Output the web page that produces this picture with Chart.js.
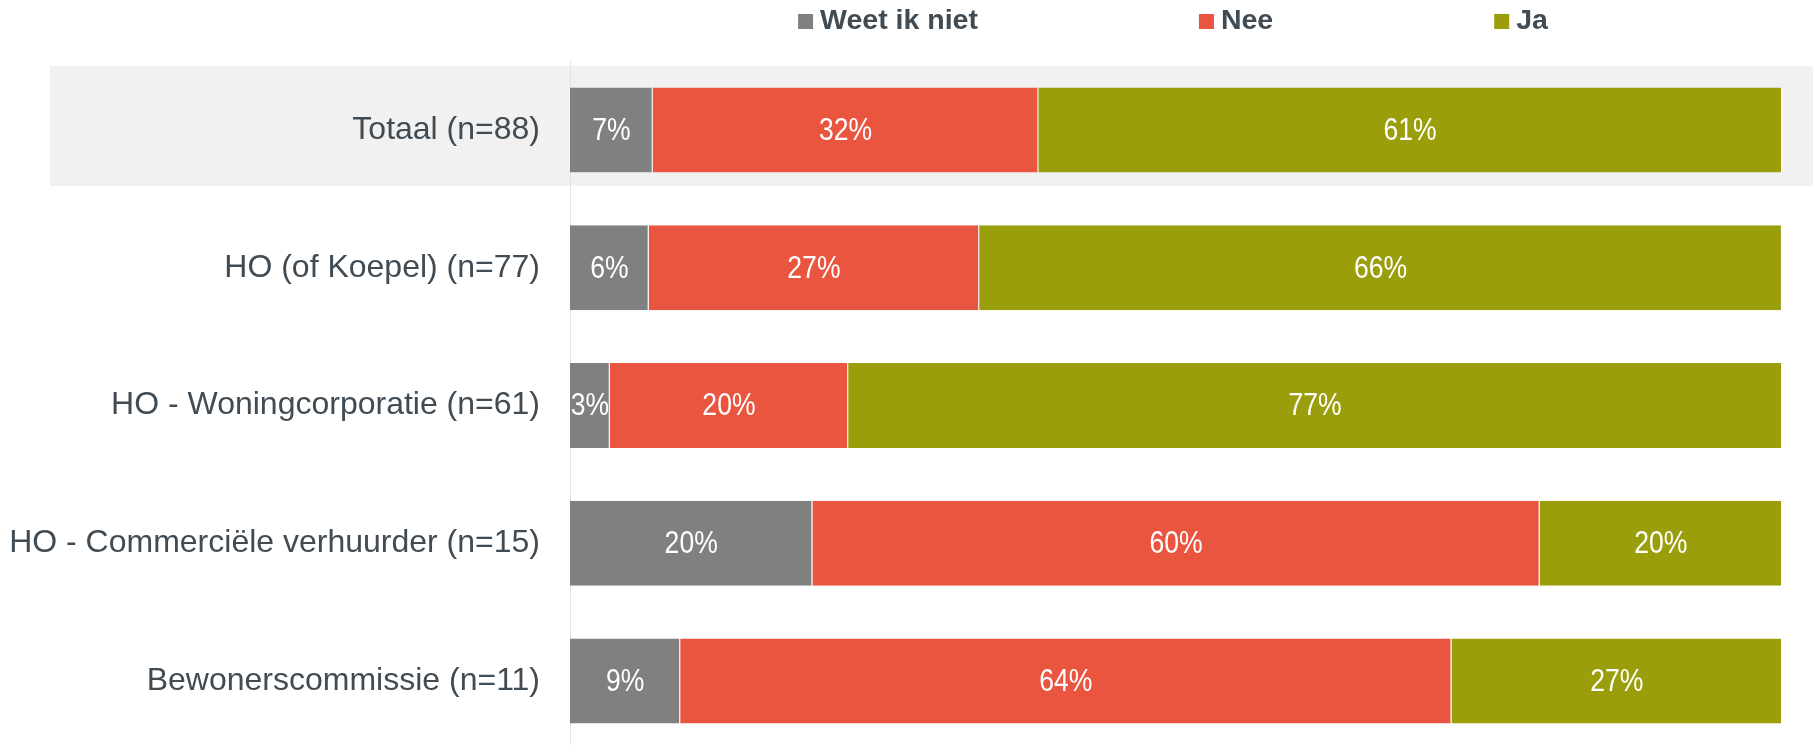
<!DOCTYPE html>
<html>
<head>
<meta charset="utf-8">
<script src="https://cdn.jsdelivr.net/npm/chart.js@4/dist/chart.umd.min.js"></script>
<style>
  html, body { margin: 0; padding: 0; background: #ffffff; overflow: hidden; }
  #wrap { width: 1813px; height: 745px; position: relative; overflow: hidden; }
</style>
</head>
<body>
<div id="wrap"><canvas id="c" width="1813" height="750"></canvas></div>
<script>
// ---- data ----
const categories = [
  'Totaal (n=88)',
  'HO (of Koepel) (n=77)',
  'HO - Woningcorporatie (n=61)',
  'HO - Commerciële verhuurder (n=15)',
  'Bewonerscommissie (n=11)'
];
const seriesNames = ['Weet ik niet', 'Nee', 'Ja'];
const weetIkNiet = [6.82, 6.49, 3.28, 20.0, 9.09];
const nee = [31.82, 27.27, 19.67, 60.0, 63.64];
const ja = [61.36, 66.23, 77.05, 20.0, 27.27];
const highlightedCategory = 'Totaal (n=88)';

// ---- styles ----
const colors = ['#808080', '#E9553F', '#9A9E0A'];
const textColor = '#414B53';
const labelFont = '"Liberation Sans", Arial, sans-serif';

const bandFirst = {
  id: 'bandFirst',
  beforeDraw(chart) {
    const y = chart.scales.y;
    const idx = categories.indexOf(highlightedCategory);
    if (idx < 0 || !y) return;
    const c = y.getPixelForValue(idx);
    const cw = y.getPixelForValue(1) - y.getPixelForValue(0);
    const ctx = chart.ctx;
    ctx.save();
    ctx.fillStyle = '#F1F1F1';
    const top = c - 0.463 * cw, bottom = c + 0.408 * cw;
    ctx.fillRect(50, top, chart.width - 50, bottom - top);
    ctx.restore();
  }
};

const barLabels = {
  id: 'barLabels',
  afterDatasetsDraw(chart) {
    const ctx = chart.ctx;
    ctx.save();
    ctx.fillStyle = '#ffffff';
    ctx.font = '32px ' + labelFont;
    ctx.textAlign = 'center';
    ctx.textBaseline = 'middle';
    const sx = 0.83;
    chart.data.datasets.forEach((ds, i) => {
      const meta = chart.getDatasetMeta(i);
      meta.data.forEach((bar, j) => {
        const p = bar.getProps(['x', 'base', 'y'], true);
        const v = ds.data[j];
        ctx.save();
        ctx.translate((p.x + p.base) / 2, p.y + 1);
        ctx.scale(sx, 1);
        ctx.fillText(Math.round(v) + '%', 0, 0);
        ctx.restore();
      });
    });
    ctx.restore();
  }
};

const customLegend = {
  id: 'customLegend',
  afterDraw(chart) {
    const ctx = chart.ctx;
    ctx.save();
    ctx.font = 'bold 28.5px ' + labelFont;
    const box = 15, gapText = 7, gapItem = 221;
    const items = chart.data.datasets.map(ds => ({
      text: ds.label, color: ds.backgroundColor,
      w: box + gapText + ctx.measureText(ds.label).width
    }));
    const total = items.reduce((s, it) => s + it.w, 0) + gapItem * (items.length - 1);
    const ca = chart.chartArea;
    let x = (ca.left + ca.right) / 2 - 3 - total / 2;
    ctx.textBaseline = 'middle';
    ctx.textAlign = 'left';
    items.forEach(it => {
      ctx.fillStyle = it.color;
      ctx.fillRect(x, 14, box, box);
      ctx.fillStyle = textColor;
      ctx.fillText(it.text, x + box + gapText, 21.5);
      x += it.w + gapItem;
    });
    ctx.restore();
  }
};

const seriesData = [weetIkNiet, nee, ja];

new Chart(document.getElementById('c'), {
  type: 'bar',
  data: {
    labels: categories,
    datasets: seriesNames.map((name, i) => ({
      label: name,
      data: seriesData[i],
      backgroundColor: colors[i],
      borderColor: 'rgba(255,255,255,0.45)',
      borderWidth: { top: 0, bottom: 0, left: 0, right: 1 },
      borderSkipped: false,
      barPercentage: 0.617,
      categoryPercentage: 1.0
    }))
  },
  options: {
    indexAxis: 'y',
    responsive: false,
    animation: false,
    devicePixelRatio: 1,
    layout: { padding: { top: 61, bottom: 0, left: 10, right: 31 } },
    plugins: {
      legend: { display: false },
      tooltip: { enabled: false },
      title: { display: false }
    },
    scales: {
      x: {
        stacked: true, min: 0, max: 100, display: false
      },
      y: {
        stacked: true,
        grid: { display: true, color: 'rgba(0,0,0,0)', drawTicks: false },
        border: { display: true, color: '#DDE3EA', width: 1 },
        ticks: {
          color: textColor,
          padding: 30,
          font: { family: labelFont, size: 32 }
        },
        afterFit(scale) {
          scale.width = 560;
          scale.paddingTop = 0;
          scale.paddingBottom = 0;
        }
      }
    }
  },
  plugins: [bandFirst, barLabels, customLegend]
});
</script>
</body>
</html>
